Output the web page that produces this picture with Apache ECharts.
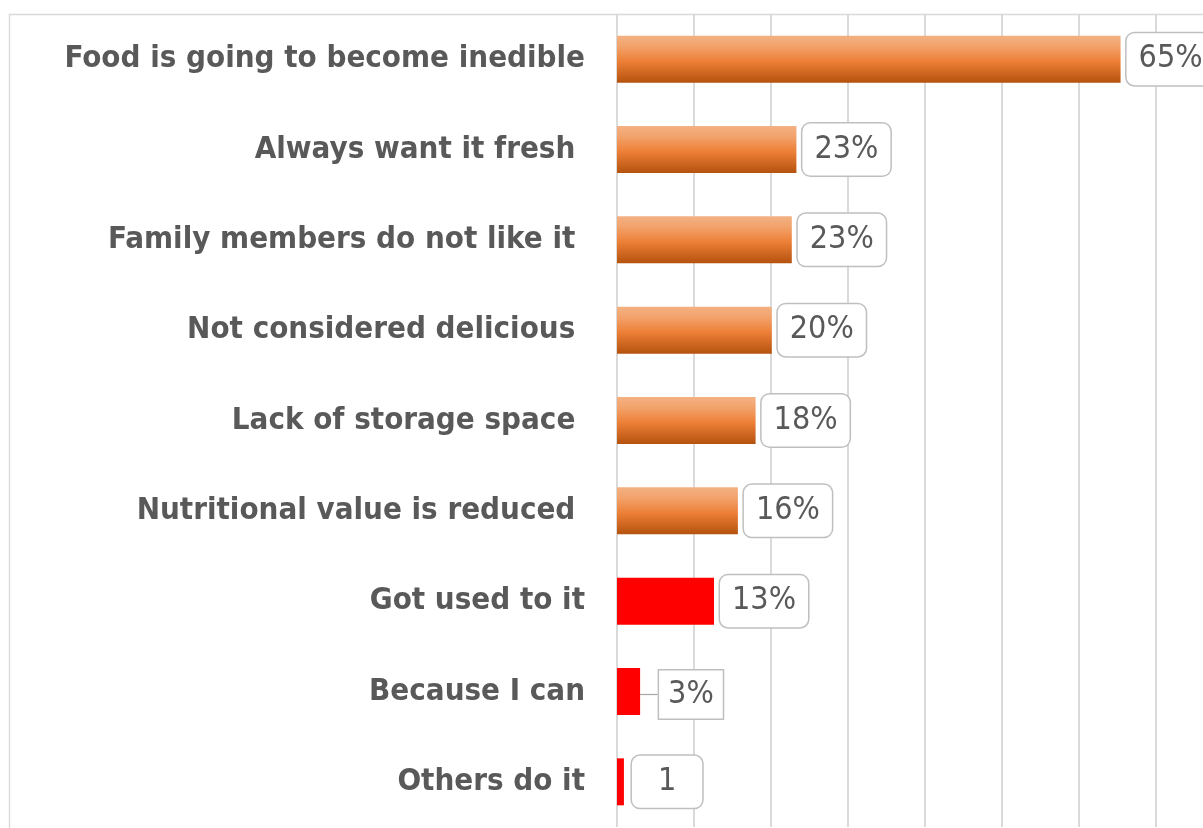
<!DOCTYPE html>
<html>
<head>
<meta charset="utf-8">
<script src="https://cdn.jsdelivr.net/npm/echarts@6/dist/echarts.min.js"></script>
<style>
  html, body { margin: 0; padding: 0; background: #fff; }
  #chart { width: 1203px; height: 828px; }
</style>
</head>
<body>
<div id="chart"></div>
<script>
// Reasons given for throwing food away (share of respondents, %)
const categories = [
  'Food is going to become inedible',
  'Always want it fresh ',
  'Family members do not like it ',
  'Not considered delicious ',
  'Lack of storage space ',
  'Nutritional value is reduced ',
  'Got used to it',
  'Because I can',
  'Others do it'
];
const shares = [65.4, 23.3, 22.7, 20.1, 18.0, 15.7, 12.6, 3.0, 0.9];
const labelSuffix = ['%', '%', '%', '%', '%', '%', '%', '%', ''];
// Answers shown in the highlight colour
const highlighted = ['Got used to it', 'Because I can', 'Others do it'];

const axisMin = 0, axisMax = 70, axisStep = 10;

const TEXT = '#595959';
const FONT = '"DejaVu Sans Condensed", "DejaVu Sans", sans-serif';

const orangeFill = new echarts.graphic.LinearGradient(0, 0, 0, 1, [
  { offset: 0, color: '#f4b183' },
  { offset: 0.22, color: '#f2a36c' },
  { offset: 0.55, color: '#ed7f36' },
  { offset: 1, color: '#b4520e' }
]);

const seriesData = shares.map((v, i) => {
  const isHighlight = highlighted.includes(categories[i]);
  const item = {
    value: v,
    itemStyle: { color: isHighlight ? '#ff0000' : orangeFill }
  };
  if (i === 7) {
    // small bar: label pushed out with a leader line, square box
    item.label = { borderRadius: 0, padding: [6, 9], lineHeight: 36 };
    item.labelLine = { show: true, lineStyle: { color: '#a6a6a6', width: 1.2 } };
  }
  if (i === 8) {
    item.label = { padding: [8, 26], distance: 8 };
  }
  return item;
});

const chart = echarts.init(document.getElementById('chart'), null, { renderer: 'canvas' });
chart.setOption({
  animation: false,
  backgroundColor: '#ffffff',
  graphic: [{
    type: 'rect',
    z: -10,
    silent: true,
    shape: { x: 9.5, y: 14.5, width: 1400, height: 1000 },
    style: { fill: 'none', stroke: '#d9d9d9', lineWidth: 1.4 }
  }],
  grid: { left: 617, right: 47, top: 14, bottom: 1, containLabel: false },
  xAxis: {
    type: 'value',
    min: axisMin,
    max: axisMax,
    interval: axisStep,
    axisLine: { show: false },
    axisTick: { show: false },
    axisLabel: { show: false },
    splitLine: { show: true, lineStyle: { color: '#d6d6d6', width: 1.8 } }
  },
  yAxis: {
    type: 'category',
    inverse: true,
    data: categories,
    axisLine: { show: false },
    axisTick: { show: false },
    axisLabel: {
      margin: 32,
      color: TEXT,
      fontFamily: FONT,
      fontWeight: 'bold',
      fontSize: 31
    }
  },
  series: [{
    type: 'bar',
    data: seriesData,
    barCategoryGap: '48%',
    label: {
      show: true,
      position: 'right',
      distance: 6,
      color: TEXT,
      fontFamily: FONT,
      fontSize: 32,
      lineHeight: 36,
      backgroundColor: '#ffffff',
      borderColor: '#bfbfbf',
      borderWidth: 1.5,
      borderRadius: 8,
      padding: [8, 12],
      formatter: p => Math.round(p.value) + labelSuffix[p.dataIndex]
    },
    labelLayout: p => p.dataIndex === 7 ? { dx: 13, dy: 3 } : {}
  }]
});
</script>
</body>
</html>
